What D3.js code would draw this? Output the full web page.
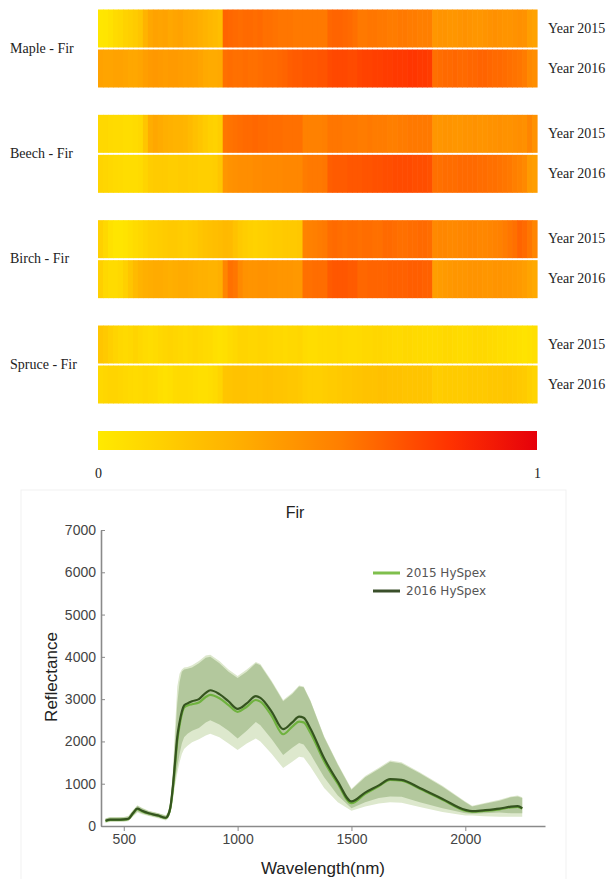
<!DOCTYPE html>
<html>
<head>
<meta charset="utf-8">
<script src="https://cdn.jsdelivr.net/npm/d3@7"></script>
<style>
  html, body { margin: 0; padding: 0; background: #ffffff; }
  svg { display: block; }
</style>
</head>
<body>
<svg id="fig" width="613" height="879"></svg>
<script>
// ---------- Heatmap data: normalised difference per spectral band (88 bands) ----------
const categories = ["Maple - Fir", "Beech - Fir", "Birch - Fir", "Spruce - Fir"];
const years = ["Year 2015", "Year 2016"];

const mapleFir2015 = [0.02,0.03,0.05,0.08,0.10,0.13,0.15,0.17,0.20,0.30,
  0.36,0.38,0.37,0.38,0.36,0.37,0.38,0.36,0.35,0.34,0.32,0.30,0.28,0.26,0.24,
  0.64,0.63,0.62,0.61,0.62,0.62,0.61,0.62,0.60,0.60,0.59,0.58,0.58,0.58,0.57,0.57,
  0.57,0.57,0.57,0.57,0.57,
  0.63,0.64,0.64,0.63,0.62,0.60,
  0.57,0.57,0.58,0.58,0.57,0.57,0.56,0.56,0.57,0.57,0.56,0.56,0.55,0.55,0.55,
  0.44,0.45,0.45,0.44,0.44,0.45,0.46,0.45,0.44,0.44,0.45,0.46,0.47,0.46,0.45,0.45,0.46,0.47,0.46,
  0.40,0.38];
const mapleFir2016 = [0.38,0.37,0.37,0.38,0.38,0.37,0.36,0.36,0.37,0.40,
  0.42,0.43,0.42,0.41,0.42,0.42,0.41,0.40,0.40,0.39,0.37,0.35,0.34,0.34,0.35,
  0.60,0.61,0.60,0.60,0.61,0.60,0.60,0.61,0.62,0.62,0.62,0.63,0.64,0.66,0.67,0.67,
  0.68,0.68,0.68,0.69,0.69,
  0.72,0.73,0.73,0.73,0.72,0.72,
  0.74,0.75,0.75,0.76,0.76,0.77,0.77,0.78,0.78,0.78,0.79,0.79,0.78,0.78,0.77,
  0.60,0.61,0.62,0.62,0.63,0.62,0.62,0.63,0.63,0.64,0.64,0.63,0.62,0.62,0.61,0.60,0.59,0.58,0.56,
  0.50,0.48];
const beechFir2015 = [0.10,0.10,0.09,0.08,0.08,0.07,0.07,0.08,0.10,0.20,
  0.33,0.36,0.34,0.32,0.31,0.30,0.30,0.29,0.26,0.23,0.20,0.17,0.14,0.13,0.16,
  0.58,0.59,0.60,0.61,0.62,0.62,0.63,0.62,0.62,0.61,0.61,0.61,0.60,0.60,0.60,0.60,
  0.54,0.54,0.54,0.54,0.55,
  0.58,0.58,0.58,0.57,0.57,0.57,
  0.56,0.56,0.57,0.56,0.56,0.56,0.55,0.55,0.56,0.56,0.57,0.57,0.57,0.57,0.57,
  0.44,0.44,0.45,0.45,0.44,0.44,0.45,0.45,0.46,0.45,0.45,0.46,0.46,0.47,0.46,0.46,0.47,0.48,0.47,
  0.52,0.46];
const beechFir2016 = [0.12,0.11,0.10,0.09,0.08,0.07,0.07,0.07,0.08,0.12,
  0.16,0.17,0.17,0.17,0.16,0.16,0.17,0.17,0.16,0.16,0.15,0.15,0.15,0.16,0.20,
  0.44,0.46,0.47,0.48,0.48,0.48,0.49,0.49,0.50,0.50,0.50,0.50,0.51,0.51,0.51,0.51,
  0.56,0.57,0.57,0.57,0.58,
  0.66,0.67,0.67,0.67,0.68,0.68,
  0.68,0.69,0.69,0.70,0.70,0.71,0.71,0.72,0.72,0.72,0.72,0.71,0.71,0.71,0.70,
  0.60,0.60,0.61,0.61,0.61,0.62,0.62,0.62,0.62,0.61,0.61,0.60,0.60,0.59,0.58,0.57,0.55,0.53,0.50,
  0.42,0.40];
const birchFir2015 = [0.14,0.10,0.05,0.03,0.03,0.04,0.06,0.08,0.10,0.12,
  0.14,0.15,0.16,0.17,0.18,0.18,0.17,0.16,0.17,0.18,0.20,0.22,0.23,0.24,0.25,
  0.27,0.26,0.22,0.18,0.16,0.14,0.13,0.14,0.15,0.16,0.17,0.17,0.18,0.18,0.18,0.19,
  0.53,0.54,0.55,0.56,0.57,
  0.61,0.62,0.61,0.60,0.61,0.61,
  0.60,0.61,0.61,0.60,0.60,0.62,0.62,0.61,0.60,0.60,0.61,0.61,0.62,0.62,0.61,
  0.50,0.51,0.51,0.50,0.50,0.51,0.51,0.52,0.52,0.51,0.51,0.52,0.53,0.54,0.56,0.58,0.60,0.64,0.62,
  0.58,0.52];
const birchFir2016 = [0.15,0.10,0.08,0.08,0.10,0.14,0.20,0.26,0.30,0.32,
  0.33,0.34,0.34,0.33,0.32,0.33,0.34,0.34,0.33,0.32,0.31,0.31,0.30,0.30,0.32,
  0.52,0.60,0.58,0.50,0.46,0.45,0.45,0.46,0.46,0.45,0.45,0.44,0.44,0.44,0.43,0.43,
  0.60,0.60,0.61,0.61,0.61,
  0.67,0.68,0.68,0.68,0.67,0.67,
  0.63,0.63,0.64,0.64,0.64,0.64,0.65,0.65,0.65,0.65,0.66,0.66,0.66,0.65,0.65,
  0.40,0.41,0.42,0.43,0.44,0.44,0.44,0.45,0.45,0.45,0.44,0.44,0.45,0.45,0.44,0.44,0.43,0.42,0.40,
  0.37,0.35];
const spruceFir2015 = [0.20,0.18,0.15,0.12,0.10,0.09,0.10,0.12,0.10,0.08,
  0.07,0.08,0.10,0.11,0.12,0.11,0.10,0.09,0.10,0.11,0.10,0.09,0.08,0.06,0.05,
  0.06,0.08,0.10,0.12,0.12,0.11,0.11,0.12,0.12,0.11,0.10,0.10,0.09,0.10,0.10,0.11,
  0.08,0.07,0.07,0.08,0.08,
  0.09,0.09,0.10,0.09,0.08,0.08,
  0.09,0.10,0.10,0.11,0.11,0.10,0.10,0.09,0.09,0.10,0.10,0.09,0.09,0.08,0.08,
  0.08,0.09,0.10,0.10,0.09,0.08,0.08,0.09,0.10,0.10,0.10,0.09,0.08,0.07,0.07,0.06,0.06,0.05,0.04,
  0.05,0.06];
const spruceFir2016 = [0.10,0.11,0.12,0.12,0.11,0.10,0.09,0.08,0.09,0.10,
  0.09,0.08,0.06,0.05,0.06,0.08,0.09,0.09,0.08,0.07,0.06,0.06,0.07,0.09,0.12,
  0.20,0.21,0.22,0.22,0.22,0.21,0.21,0.21,0.22,0.22,0.21,0.21,0.20,0.19,0.19,0.18,
  0.16,0.15,0.15,0.15,0.16,
  0.17,0.17,0.18,0.19,0.19,0.20,
  0.21,0.22,0.22,0.22,0.23,0.23,0.22,0.22,0.22,0.21,0.21,0.21,0.21,0.20,0.20,
  0.16,0.16,0.17,0.17,0.17,0.17,0.17,0.18,0.18,0.18,0.18,0.19,0.19,0.19,0.20,0.20,0.19,0.18,0.17,
  0.14,0.12];

const heatRows = [
  [mapleFir2015, mapleFir2016],
  [beechFir2015, beechFir2016],
  [birchFir2015, birchFir2016],
  [spruceFir2015, spruceFir2016]
];
const colorbarTicks = [0, 1];

// ---------- Fir reflectance spectra (mean and spread per year) ----------
const wavelength = [420,440,470,500,520,540,560,580,610,650,685,695,705,715,725,735,745,755,765,780,
  800,830,860,880,920,960,1000,1040,1080,1100,1150,1200,1240,1270,1290,1320,1380,1440,1500,1560,
  1620,1670,1720,1800,1900,2000,2030,2080,2150,2200,2230,2250];
const mean2016 = [125,150,150,155,170,300,410,360,300,250,195,260,450,900,1500,2100,2450,2700,2850,2900,
  2950,3000,3150,3210,3120,2950,2770,2900,3070,3030,2700,2290,2450,2585,2560,2300,1600,1050,580,790,
  960,1110,1090,900,640,380,350,370,410,460,470,420];
const mean2015 = [120,145,145,150,165,290,400,350,295,245,190,250,430,850,1420,2000,2380,2650,2800,2850,
  2880,2920,3050,3100,3020,2860,2700,2820,2980,2940,2600,2170,2350,2470,2450,2200,1530,1000,540,760,
  940,1090,1070,880,620,360,340,355,395,440,450,410];
const upper2016 = [175,200,200,205,225,360,480,420,350,300,245,320,550,1100,2000,2900,3400,3650,3700,3720,
  3750,3850,3980,4000,3850,3650,3500,3650,3850,3800,3400,2950,3120,3300,3280,2950,2100,1450,860,1150,
  1350,1520,1480,1250,930,560,460,520,600,680,700,660];
const lower2016 = [85,110,110,115,125,240,340,300,250,200,145,200,360,700,1050,1400,1700,1950,2100,2180,
  2250,2320,2450,2500,2400,2250,2070,2250,2460,2380,2050,1680,1850,1960,1930,1700,1150,720,420,560,
  660,700,690,560,420,300,290,300,320,300,300,300];
const upper2015 = [185,210,210,215,235,370,490,430,360,310,255,340,600,1250,2300,3300,3600,3700,3750,3760,
  3800,3900,4030,4050,3900,3700,3550,3700,3880,3830,3430,2980,3150,3320,3300,2970,2120,1470,880,1180,
  1380,1550,1510,1270,950,580,480,540,620,700,720,680];
const lower2015 = [75,95,95,100,110,220,320,280,235,185,130,180,320,600,950,1250,1500,1700,1820,1900,
  1980,2050,2140,2180,2100,1950,1800,1950,2070,2000,1700,1370,1520,1640,1620,1400,900,560,360,460,
  530,560,550,450,330,250,250,230,220,220,220,220];

const xTicks = [500, 1000, 1500, 2000];
const yTicks = [0, 1000, 2000, 3000, 4000, 5000, 6000, 7000];
const legendLabels = ["2015 HySpex", "2016 HySpex"];

// ---------- drawing ----------
const svg = d3.select("#fig");
const serif = "'Liberation Serif', 'Times New Roman', serif";
const sans = "'Liberation Sans', Arial, sans-serif";

const heat = d3.scaleLinear()
  .domain([0, 0.3, 0.55, 0.8, 1])
  .range(["#ffea00", "#ffb300", "#ff7f00", "#ff3300", "#e6000a"])
  .clamp(true);

const hx = d3.scaleBand().domain(d3.range(mapleFir2015.length)).range([98, 537]);
const panelY = d3.scaleBand().domain(categories).range([9.5, 403.5]).paddingInner(0.2595);
const rowY = d3.scaleBand().domain(years).range([0, panelY.bandwidth()]).paddingInner(0.05);

const panels = svg.append("g").attr("class", "heatmaps")
  .selectAll("g").data(categories).join("g")
  .attr("transform", d => `translate(0,${panelY(d)})`);

panels.each(function(cat, ci) {
  const g = d3.select(this);
  years.forEach((yr, yi) => {
    g.append("g").selectAll("rect").data(heatRows[ci][yi]).join("rect")
      .attr("x", (d, i) => hx(i))
      .attr("y", rowY(yr))
      .attr("width", hx.bandwidth() + 0.6)
      .attr("height", rowY.bandwidth())
      .attr("fill", d => heat(d));
    g.append("text")
      .attr("x", 548)
      .attr("y", rowY(yr) + rowY.bandwidth() / 2 + 1)
      .attr("dominant-baseline", "middle")
      .attr("font-family", serif).attr("font-size", 14).attr("fill", "#222")
      .text(yr);
  });
  g.append("text")
    .attr("x", 10)
    .attr("y", panelY.bandwidth() / 2 + 1)
    .attr("dominant-baseline", "middle")
    .attr("font-family", serif).attr("font-size", 14).attr("fill", "#222")
    .text(cat);
});

// colour bar
const cb = d3.scaleLinear().domain([0, 1]).range([98, 537]);
const grad = svg.append("defs").append("linearGradient").attr("id", "cbar");
d3.range(0, 1.0001, 0.05).forEach(t => {
  grad.append("stop").attr("offset", `${t * 100}%`).attr("stop-color", heat(t));
});
svg.append("rect").attr("x", cb(0)).attr("y", 431).attr("width", cb(1) - cb(0)).attr("height", 19)
  .attr("fill", "url(#cbar)");
const cbAxis = svg.append("g").attr("transform", "translate(0,450)")
  .call(d3.axisBottom(cb).tickValues(colorbarTicks).tickFormat(d3.format("d")).tickSize(0).tickPadding(18));
cbAxis.select(".domain").remove();
cbAxis.selectAll("text").attr("font-family", serif).attr("font-size", 14).attr("fill", "#222");

// ---------- spectra chart ----------
svg.append("rect").attr("x", 21).attr("y", 490).attr("width", 545).attr("height", 400)
  .attr("fill", "none").attr("stroke", "#f1f1f1");

const x = d3.scaleLinear().domain([400, 2350]).range([101, 545]);
const y = d3.scaleLinear().domain([0, 7000]).range([826, 530]);

const band = (lo, hi) => d3.area()
  .x((d, i) => x(wavelength[i]))
  .y0((d, i) => y(lo[i]))
  .y1((d, i) => y(hi[i]))
  .curve(d3.curveLinear);
const line = vals => d3.line()
  .x((d, i) => x(wavelength[i]))
  .y((d, i) => y(vals[i]))
  .curve(d3.curveMonotoneX);

const plot = svg.append("g");
plot.append("path").datum(wavelength).attr("d", band(lower2015, upper2015)).attr("fill", "#dde8cd");
plot.append("path").datum(wavelength).attr("d", band(lower2016, upper2016)).attr("fill", "#b3c89d");
plot.append("path").datum(wavelength).attr("d", line(mean2015))
  .attr("fill", "none").attr("stroke", "#6fb23e").attr("stroke-width", 2.2);
plot.append("path").datum(wavelength).attr("d", line(mean2016))
  .attr("fill", "none").attr("stroke", "#35541f").attr("stroke-width", 2.2);

const yAxis = svg.append("g").attr("transform", `translate(${x(400)},0)`)
  .call(d3.axisLeft(y).tickValues(yTicks).tickFormat(d3.format("d"))
    .tickSizeInner(-4).tickSizeOuter(0).tickPadding(5));
const xAxis = svg.append("g").attr("transform", `translate(0,${y(0)})`)
  .call(d3.axisBottom(x).tickValues(xTicks).tickFormat(d3.format("d"))
    .tickSizeInner(5).tickSizeOuter(0).tickPadding(3));
[yAxis, xAxis].forEach(a => {
  a.select(".domain").attr("stroke", "#8a8a8a").attr("stroke-width", 1.6);
  a.selectAll(".tick line").attr("stroke", "#8a8a8a");
  a.selectAll("text").attr("font-family", sans).attr("font-size", 14).attr("fill", "#444");
});

svg.append("text").attr("x", 295).attr("y", 518).attr("text-anchor", "middle")
  .attr("font-family", sans).attr("font-size", 16).attr("fill", "#222").text("Fir");
svg.append("text").attr("x", 323).attr("y", 874).attr("text-anchor", "middle")
  .attr("font-family", sans).attr("font-size", 17).attr("fill", "#222").text("Wavelength(nm)");
svg.append("text").attr("transform", "translate(53,677) rotate(-90)")
  .attr("text-anchor", "middle").attr("dominant-baseline", "middle")
  .attr("font-family", sans).attr("font-size", 17).attr("fill", "#222").text("Reflectance");

const legendColors = ["#7fbf4d", "#3a4f2a"];
const legend = svg.append("g").selectAll("g").data(legendLabels).join("g")
  .attr("transform", (d, i) => `translate(373,${573 + i * 18})`);
legend.append("line").attr("x1", 0).attr("x2", 27)
  .attr("stroke", (d, i) => legendColors[i]).attr("stroke-width", 3);
legend.append("text").attr("x", 33).attr("dominant-baseline", "middle")
  .attr("font-family", "'DejaVu Sans', Verdana, sans-serif").attr("font-size", 12).attr("fill", "#555")
  .text(d => d);
</script>
</body>
</html>
